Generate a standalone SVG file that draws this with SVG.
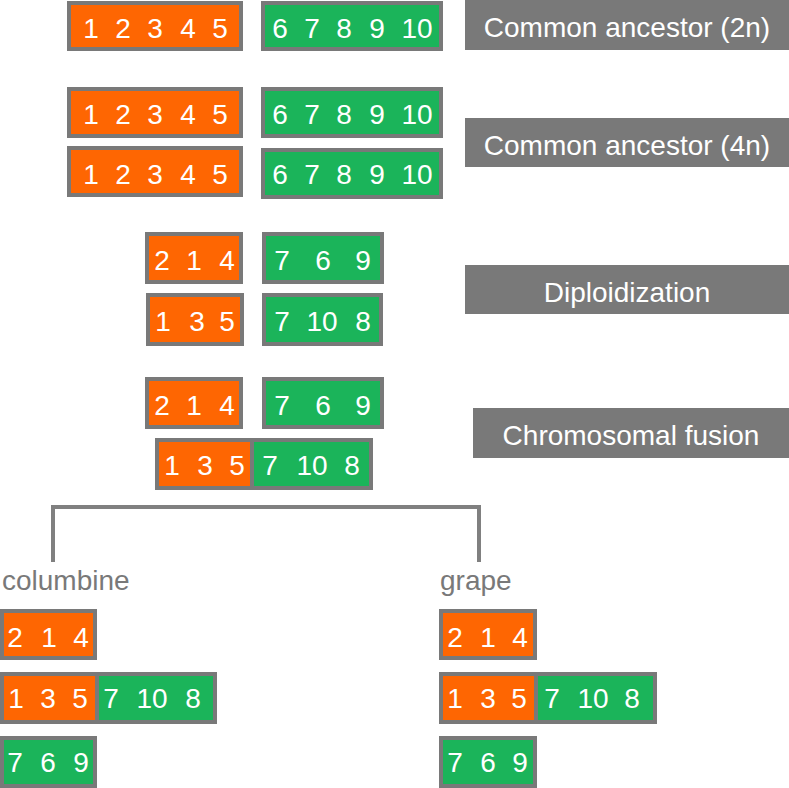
<svg xmlns="http://www.w3.org/2000/svg" width="789" height="788" viewBox="0 0 789 788">
<style>
.o{fill:#fe6602;stroke:#797979;stroke-width:4}
.g{fill:#1bb45a;stroke:#797979;stroke-width:4}
.f{fill:none;stroke:#797979;stroke-width:4}
.sep{stroke:#797979;stroke-width:2}
.n{font-family:"Liberation Sans",Arial,sans-serif;font-size:28px;fill:#fff;text-anchor:middle}
.lb{fill:#797979}
.lt{font-family:"Liberation Sans",Arial,sans-serif;font-size:28px;fill:#fff;text-anchor:middle}
.sp{font-family:"Liberation Sans",Arial,sans-serif;font-size:28px;fill:#797979}
.br{fill:none;stroke:#808080;stroke-width:4}
</style>
<rect width="789" height="788" fill="#fff"/>

<g id="anc2n-a"><rect class="o" x="69" y="3" width="172" height="46"/>
<text class="n" y="38"><tspan x="91">1</tspan><tspan x="123">2</tspan><tspan x="155">3</tspan><tspan x="188">4</tspan><tspan x="220">5</tspan></text></g>
<g id="anc2n-b"><rect class="g" x="263" y="3" width="178" height="46"/>
<text class="n" y="38"><tspan x="280">6</tspan><tspan x="312">7</tspan><tspan x="344">8</tspan><tspan x="377">9</tspan><tspan x="417">10</tspan></text></g>

<g id="anc4n-a1"><rect class="o" x="69" y="89" width="172" height="47"/>
<text class="n" y="124"><tspan x="91">1</tspan><tspan x="123">2</tspan><tspan x="155">3</tspan><tspan x="188">4</tspan><tspan x="220">5</tspan></text></g>
<g id="anc4n-b1"><rect class="g" x="263" y="89" width="178" height="47"/>
<text class="n" y="124"><tspan x="280">6</tspan><tspan x="312">7</tspan><tspan x="344">8</tspan><tspan x="377">9</tspan><tspan x="417">10</tspan></text></g>
<g id="anc4n-a2"><rect class="o" x="69" y="148" width="172" height="47"/>
<text class="n" y="184"><tspan x="91">1</tspan><tspan x="123">2</tspan><tspan x="155">3</tspan><tspan x="188">4</tspan><tspan x="220">5</tspan></text></g>
<g id="anc4n-b2"><rect class="g" x="263" y="150" width="178" height="47"/>
<text class="n" y="184"><tspan x="280">6</tspan><tspan x="312">7</tspan><tspan x="344">8</tspan><tspan x="377">9</tspan><tspan x="417">10</tspan></text></g>

<g id="dip-a1"><rect class="o" x="147" y="234" width="94" height="48"/>
<text class="n" y="270"><tspan x="162">2</tspan><tspan x="194">1</tspan><tspan x="227">4</tspan></text></g>
<g id="dip-b1"><rect class="g" x="264" y="234" width="118" height="48"/>
<text class="n" y="270"><tspan x="282">7</tspan><tspan x="323">6</tspan><tspan x="363">9</tspan></text></g>
<g id="dip-a2"><rect class="o" x="148" y="295" width="94" height="49"/>
<text class="n" y="331"><tspan x="163">1</tspan><tspan x="197">3</tspan><tspan x="227">5</tspan></text></g>
<g id="dip-b2"><rect class="g" x="264" y="295" width="117" height="49"/>
<text class="n" y="331"><tspan x="282">7</tspan><tspan x="322">10</tspan><tspan x="363">8</tspan></text></g>

<g id="fus-a"><rect class="o" x="147" y="379" width="94" height="48"/>
<text class="n" y="415"><tspan x="162">2</tspan><tspan x="194">1</tspan><tspan x="227">4</tspan></text></g>
<g id="fus-b"><rect class="g" x="264" y="379" width="118" height="48"/>
<text class="n" y="415"><tspan x="282">7</tspan><tspan x="323">6</tspan><tspan x="363">9</tspan></text></g>
<g id="fus-ab"><rect class="o" x="157" y="440" width="95" height="48" stroke="none"/><rect class="g" x="252" y="440" width="119" height="48" stroke="none"/>
<line class="sep" x1="252" y1="440" x2="252" y2="488"/><rect class="f" x="157" y="440" width="214" height="48"/>
<text class="n" y="475"><tspan x="172">1</tspan><tspan x="205">3</tspan><tspan x="237">5</tspan><tspan x="270">7</tspan><tspan x="312">10</tspan><tspan x="352">8</tspan></text></g>

<g id="label-2n"><rect class="lb" x="465" y="0" width="324" height="50"/><text class="lt" x="627" y="37">Common ancestor (2n)</text></g>
<g id="label-4n"><rect class="lb" x="465" y="118" width="324" height="49"/><text class="lt" x="627" y="155">Common ancestor (4n)</text></g>
<g id="label-dip"><rect class="lb" x="465" y="265" width="324" height="49"/><text class="lt" x="627" y="302">Diploidization</text></g>
<g id="label-fus"><rect class="lb" x="473" y="408" width="316" height="50"/><text class="lt" x="631" y="445">Chromosomal fusion</text></g>

<g id="connectors"><path class="br" d="M53,562 V507 H479 V562"/></g>

<g id="columbine">
<text class="sp" x="2" y="590">columbine</text>
<g id="col-a"><rect class="o" x="2" y="611" width="93" height="47"/>
<text class="n" y="647"><tspan x="15">2</tspan><tspan x="49">1</tspan><tspan x="81">4</tspan></text></g>
<g id="col-ab"><rect class="o" x="2" y="674" width="95" height="48" stroke="none"/><rect class="g" x="97" y="674" width="118" height="48" stroke="none"/>
<line class="sep" x1="97" y1="674" x2="97" y2="722"/><rect class="f" x="2" y="674" width="213" height="48"/>
<text class="n" y="708"><tspan x="16">1</tspan><tspan x="48">3</tspan><tspan x="80">5</tspan><tspan x="111">7</tspan><tspan x="152">10</tspan><tspan x="193">8</tspan></text></g>
<g id="col-b"><rect class="g" x="2" y="738" width="93" height="48"/>
<text class="n" y="772"><tspan x="15">7</tspan><tspan x="48">6</tspan><tspan x="81">9</tspan></text></g>
</g>

<g id="grape">
<text class="sp" x="440" y="590">grape</text>
<g id="gr-a"><rect class="o" x="441" y="611" width="94" height="47"/>
<text class="n" y="647"><tspan x="455">2</tspan><tspan x="488">1</tspan><tspan x="520">4</tspan></text></g>
<g id="gr-ab"><rect class="o" x="441" y="674" width="95" height="48" stroke="none"/><rect class="g" x="536" y="674" width="119" height="48" stroke="none"/>
<line class="sep" x1="536" y1="674" x2="536" y2="722"/><rect class="f" x="441" y="674" width="214" height="48"/>
<text class="n" y="708"><tspan x="455">1</tspan><tspan x="488">3</tspan><tspan x="519">5</tspan><tspan x="552">7</tspan><tspan x="593">10</tspan><tspan x="632">8</tspan></text></g>
<g id="gr-b"><rect class="g" x="441" y="738" width="94" height="48"/>
<text class="n" y="772"><tspan x="455">7</tspan><tspan x="488">6</tspan><tspan x="520">9</tspan></text></g>
</g>
</svg>
